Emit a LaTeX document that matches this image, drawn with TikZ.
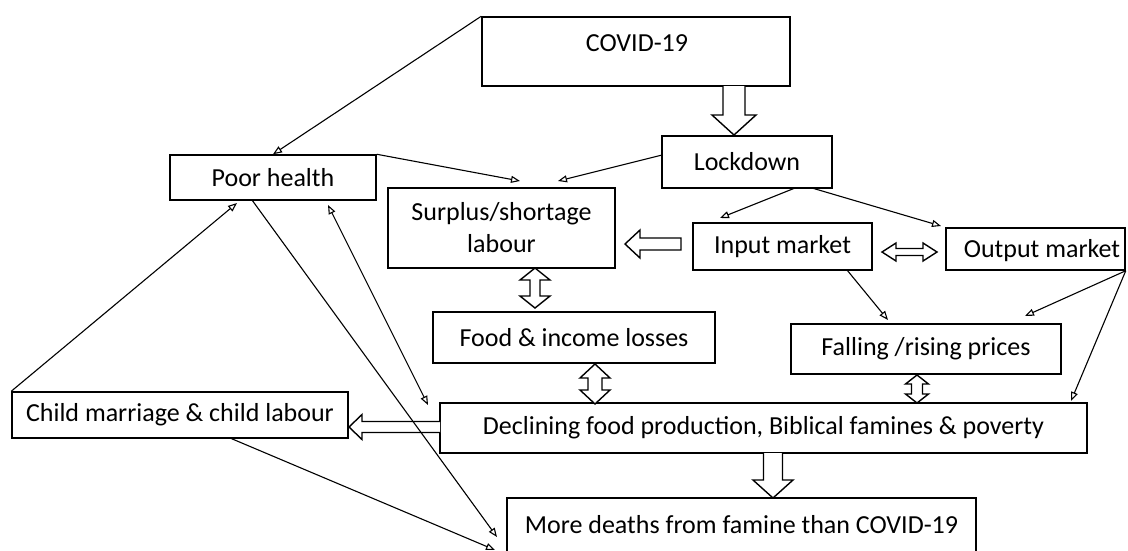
\documentclass[tikz,border=0pt]{standalone}
\usepackage{fontspec}
\setmainfont{Carlito}
\usetikzlibrary{arrows.meta,calc}
\begin{document}
\begin{tikzpicture}[x=1pt,y=-1pt,
  box/.style={draw, line width=1.5pt, inner sep=0pt, align=center, font=\fontsize{26}{32}\selectfont},
  lbl/.style={inner sep=0pt, font=\fontsize{26}{32}\selectfont},
  arr/.style={line width=1.1pt, -{Triangle[open,length=9pt,width=7pt]}},
  darr/.style={line width=1.1pt, {Triangle[open,length=9pt,width=7pt]}-{Triangle[open,length=9pt,width=7pt]}},
  blk/.style={draw, line width=1.4pt, fill=white, line join=miter}]
\useasboundingbox (0,0) rectangle (1128,550);
\clip (0,0) rectangle (1128,550);
\fill[white] (0,0) rectangle (1128,550);

% boxes
\node[box, minimum width=308pt, minimum height=69pt] (covid) at (636,51.5) {};
\node[lbl] (covidtxt) at (637,43) {COVID-19};
\node[box, minimum width=170pt, minimum height=52pt] (ld) at (747,162) {Lockdown};
\node[box, minimum width=206pt, minimum height=45pt] (ph) at (273,177.5) {Poor health};
\node[box, minimum width=227pt, minimum height=80pt] (sur) at (501.5,228) {Surplus/shortage\\labour};
\node[box, minimum width=179pt, minimum height=47pt] (inp) at (782.5,246.5) {Input market};
\node[box, minimum width=179pt, minimum height=42pt] (out) at (1035.5,249) {};
\node[lbl] (outtxt) at (1042,251) {Output market};
\node[box, minimum width=282pt, minimum height=51pt] (food) at (574,337.5) {Food \& income losses};
\node[box, minimum width=270pt, minimum height=50pt] (fall) at (926,349) {Falling /rising prices};
\node[box, minimum width=647pt, minimum height=50pt] (dec) at (763.5,428) {Declining food production, Biblical famines \& poverty};
\node[box, minimum width=336pt, minimum height=46pt] (child) at (180,415) {Child marriage \& child labour};
\node[box, minimum width=469pt, minimum height=54pt] (more) at (741.5,525) {More deaths from famine than COVID-19};

% block arrows
\draw[blk] (723,86) -- (723,115) -- (712,115) -- (734,135) -- (756,115) -- (745,115) -- (745,86);
\draw[blk] (681,238) -- (640,238) -- (640,230) -- (625,244) -- (640,258) -- (640,250) -- (681,250) -- cycle;
\draw[blk] (882,252) -- (896,243) -- (896,248.5) -- (923,248.5) -- (923,243) -- (937,252) -- (923,261) -- (923,255.5) -- (896,255.5) -- (896,261) -- cycle;
\draw[blk] (535,268) -- (550,280) -- (540,280) -- (540,296) -- (550,296) -- (535,308) -- (520,296) -- (530,296) -- (530,280) -- (520,280) -- cycle;
\draw[blk] (595,364) -- (610,378) -- (602,378) -- (602,390) -- (610,390) -- (595,404) -- (580,390) -- (588,390) -- (588,378) -- (580,378) -- cycle;
\draw[blk] (917,375) -- (928.5,384) -- (922.5,384) -- (922.5,394) -- (928.5,394) -- (917,403) -- (905.5,394) -- (911.5,394) -- (911.5,384) -- (905.5,384) -- cycle;
\draw[blk] (440,421.5) -- (362,421.5) -- (362,414.5) -- (349,427) -- (362,439.5) -- (362,432.5) -- (440,432.5);
\draw[blk] (763.5,453) -- (763.5,480) -- (753,480) -- (773,498) -- (793,480) -- (782.5,480) -- (782.5,453);

% coordinates for connector ends
\coordinate (t2) at (520,181);
\coordinate (s3) at (662,155);
\coordinate (t3) at (558,181);
\coordinate (s4) at (795,188);
\coordinate (t4) at (720,218);
\coordinate (s5) at (812,188);
\coordinate (t5) at (941,226);
\coordinate (s6) at (847,270);
\coordinate (t6) at (888,320);
\coordinate (t7) at (1025,316);
\coordinate (t8) at (1071,401);
\coordinate (t9) at (237,203);
\coordinate (s10) at (252,200);
\coordinate (t10) at (497,537);
\coordinate (a11) at (328,205);
\coordinate (b11) at (428,405);
\coordinate (s12) at (230,438);
\coordinate (t12) at (495,550);

% line connectors
\draw[arr] (covid.north west) -- (ph.north);
\draw[arr] (ph.north east) -- (t2);
\draw[arr] (s3) -- (t3);
\draw[arr] (s4) -- (t4);
\draw[arr] (s5) -- (t5);
\draw[arr] (s6) -- (t6);
\draw[arr] (out.south east) -- (t7);
\draw[arr] (out.south east) -- (t8);
\draw[arr] (child.north west) -- (t9);
\draw[arr] (s10) -- (t10);
\draw[darr] (a11) -- (b11);
\draw[arr] (s12) -- (t12);
\end{tikzpicture}
\end{document}
